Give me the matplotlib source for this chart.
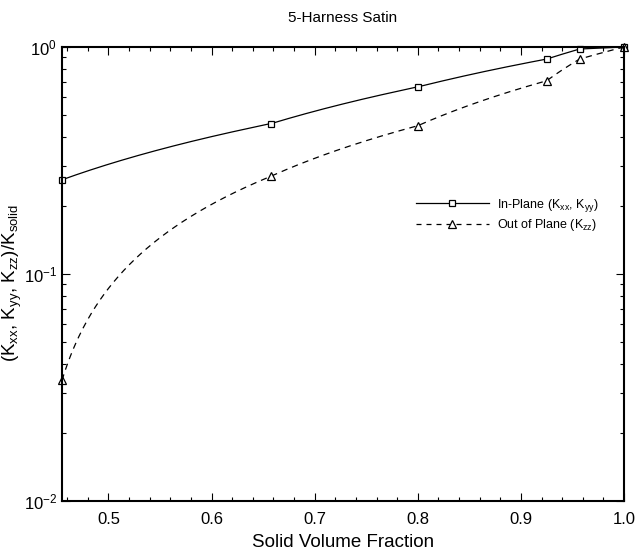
import numpy as np
import matplotlib
matplotlib.use("Agg")
import matplotlib.pyplot as plt
from matplotlib.ticker import MultipleLocator, LogLocator, NullFormatter

plt.rcParams['font.family'] = ['Liberation Sans', 'DejaVu Sans']
plt.rcParams['mathtext.fontset'] = 'custom'
plt.rcParams['mathtext.rm'] = 'Liberation Sans'
plt.rcParams['mathtext.it'] = 'Liberation Sans'

# data
vf = [0.455, 0.658, 0.80, 0.925, 0.957, 1.0]
k_in = [0.26, 0.46, 0.667, 0.885, 0.98, 1.0]
k_out = [0.034, 0.27, 0.45, 0.71, 0.885, 1.0]


def seg(x, y, n=400):
    # straight segments in data space look curved on a log axis,
    # so sample them finely before drawing
    xs = np.linspace(x[0], x[-1], n)
    xs = np.union1d(xs, x)
    return xs, np.interp(xs, x, y)


fig = plt.figure(figsize=(6.37, 5.55), dpi=100)
ax = fig.add_axes([0.0973, 0.0973, 0.8823, 0.818])

xs, ys = seg(vf, k_in)
ax.plot(xs, ys, 'k-', lw=0.9)
ax.plot(vf, k_in, 'ks', mfc='white', ms=5, mew=0.9, clip_on=False)
xs, ys = seg(vf, k_out)
ax.plot(xs, ys, 'k--', lw=0.9, dashes=(5, 4))
ax.plot(vf, k_out, 'k^', mfc='white', ms=5.5, mew=0.9, clip_on=False)

# legend proxies
ax.plot([], [], 'k-', marker='s', mfc='white', ms=5, mew=0.9, lw=0.9,
        label='In-Plane (K$_{xx}$, K$_{yy}$)')
ax.plot([], [], 'k--', marker='^', mfc='white', ms=5.5, mew=0.9, lw=0.9,
        dashes=(4, 4), label='Out of Plane (K$_{zz}$)')
ax.legend(loc='center left', bbox_to_anchor=(0.61, 0.63), frameon=False,
          fontsize=9, handlelength=5.8, handletextpad=0.7, labelspacing=0.25)

ax.set_yscale('log')
ax.set_xlim(0.455, 1.0)
ax.set_ylim(1e-2, 1.0)
ax.xaxis.set_major_locator(MultipleLocator(0.1))
ax.xaxis.set_minor_locator(MultipleLocator(0.02))
ax.yaxis.set_major_locator(LogLocator(base=10))
ax.yaxis.set_minor_locator(LogLocator(base=10, subs=np.arange(2, 10)))
ax.yaxis.set_minor_formatter(NullFormatter())
ax.tick_params(which='both', direction='in', top=True, right=True, labelsize=12)
ax.tick_params(axis='x', pad=8)
ax.tick_params(which='major', length=6, width=0.8)
ax.tick_params(which='minor', length=3, width=0.8)
for s in ax.spines.values():
    s.set_linewidth(1.5)

ax.set_title('5-Harness Satin', fontsize=11, pad=18)
ax.set_xlabel('Solid Volume Fraction', fontsize=13.5, labelpad=5)
ax.set_ylabel('(K$_{xx}$, K$_{yy}$, K$_{zz}$)/K$_{solid}$', fontsize=13.5,
              va='center')
ax.yaxis.set_label_coords(-0.088, 0.48)

fig.savefig('out.png', dpi=100)
